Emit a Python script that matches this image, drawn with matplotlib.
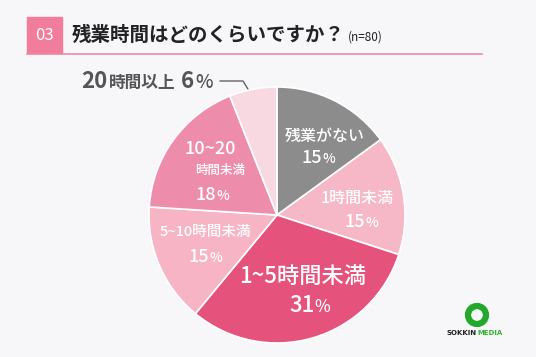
import matplotlib.pyplot as plt
from matplotlib.patches import Rectangle, Circle
from matplotlib.lines import Line2D

plt.rcParams['font.family'] = ['Noto Sans CJK JP', 'DejaVu Sans']

# data
categories = ['残業がない', '1時間未満', '1~5時間未満', '5~10時間未満', '10~20時間未満', '20時間以上']
shares = [15, 15, 31, 15, 18, 6]
colors = ['#8c8c8c', '#f6b8c7', '#e5527c', '#f6b4c4', '#ee8dab', '#f9d9e1']
title = '残業時間はどのくらいですか？'
n_text = '(n=80)'

W, H = 536, 357
fig = plt.figure(figsize=(W / 100, H / 100), dpi=100)
fig.patch.set_facecolor('#f7f7f9')

# header
hdr = fig.add_axes([0, 0, 1, 1])
hdr.set_xlim(0, W)
hdr.set_ylim(H, 0)
hdr.axis('off')
hdr.add_patch(Rectangle((27, 17), 35, 36, color='#f27c9c'))
hdr.text(44.5, 36, '03', color='white', fontsize=12, ha='center', va='center')
hdr.add_line(Line2D([27, 482], [53.5, 53.5], color='#ec8aa3', lw=1.2))
hdr.text(72, 35, title, fontsize=14, color='#222222', ha='left', va='center',
         fontweight='bold')
hdr.text(348, 37, n_text, fontsize=8.5, color='#222222', ha='left', va='center')

# logo
hdr.add_patch(Circle((477, 315), 9, fill=False, ec='#22a82a', lw=4.5))
hdr.text(477, 333, 'SOKKIN', fontsize=5, fontweight='bold', color='#222222',
         ha='right', va='center', family='DejaVu Sans')
hdr.text(477, 333, 'MEDIA', fontsize=5, fontweight='bold', color='#2fb52f',
         ha='left', va='center', family='DejaVu Sans')

# pie: center (277,215), radius 128 px
cx, cy, r = 277, 215, 128
ax = fig.add_axes([(cx - r) / W, (H - cy - r) / H, 2 * r / W, 2 * r / H])
ax.pie(shares, colors=colors, startangle=90, counterclock=False, radius=1,
       wedgeprops=dict(linewidth=1.2, edgecolor='white'))
ax.set_xlim(-1, 1)
ax.set_ylim(-1, 1)
ax.set_aspect('auto')
ax.axis('off')


def px(x, y):
    return (x - cx) / r, (cy - y) / r


def label(x, y, s, size, color='white'):
    ax.text(*px(x, y), s, fontsize=size, color=color, ha='center', va='center',
            fontweight='medium')


def pct(x, y, v, size, color='white'):
    # number and a smaller % sign, centred together on x
    shift = size * 0.45
    ax.text(*px(x + shift, y), str(v), fontsize=size, color=color, ha='right',
            va='center', fontweight='medium')
    ax.text(*px(x + shift + 0.5, y + size * 0.08), '%', fontsize=size * 0.75,
            color=color, ha='left', va='center', fontweight='medium')


label(325, 136, categories[0], 11.5)
pct(316, 158, shares[0], 13)
label(357, 198, categories[1], 11.5)
pct(359, 222, shares[1], 13)
label(303, 276, categories[2], 16)
pct(307, 306, shares[2], 16)
label(205, 232, categories[3], 10.5)
pct(203, 257, shares[3], 13)
label(210, 149, '10~20', 13)
label(220, 170, '時間未満', 9)
pct(210, 195, shares[4], 13)

# outside label for the small slice
grey = '#555555'
hdr.text(81, 81, '20', fontsize=16, color=grey, ha='left', va='center', fontweight='bold')
hdr.text(109, 82.5, '時間以上', fontsize=12, color=grey, ha='left', va='center', fontweight='bold')
hdr.text(194, 81, str(shares[5]), fontsize=16, color=grey, ha='right', va='center', fontweight='bold')
hdr.text(195, 83, '%', fontsize=13.5, color=grey, ha='left', va='center', fontweight='medium')
hdr.add_line(Line2D([220, 243, 251], [81, 81, 94], color=grey, lw=0.9))

fig.savefig('out.png', dpi=100, facecolor=fig.get_facecolor())
